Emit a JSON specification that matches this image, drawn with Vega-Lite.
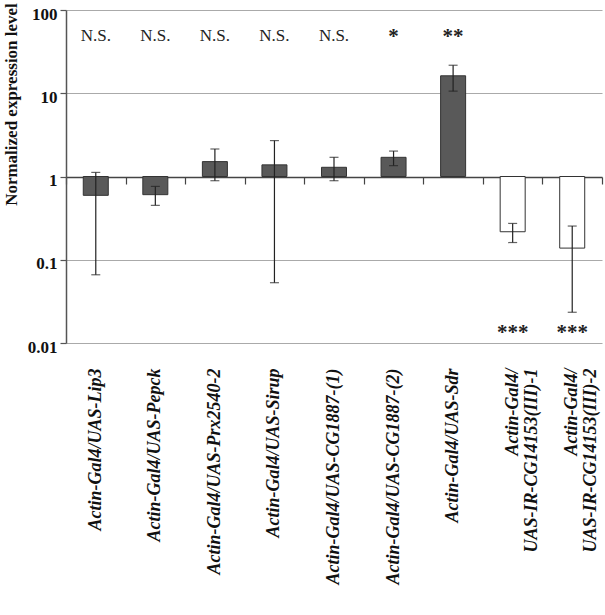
{
  "$schema": "https://vega.github.io/schema/vega-lite/v6.json",
  "width": 605,
  "height": 615,
  "autosize": {"type": "fit", "contains": "padding"},
  "padding": {"left": 1, "top": 2, "right": 2, "bottom": 31},
  "background": "white",
  "config": {"view": {"stroke": null}, "font": "Liberation Serif"},
  "data": {
    "values": [
      {"genotype": "Actin-Gal4/UAS-Lip3", "construct": "overexpression", "mean": 0.594, "lo": 0.066, "hi": 1.12, "sig": "N.S."},
      {"genotype": "Actin-Gal4/UAS-Pepck", "construct": "overexpression", "mean": 0.605, "lo": 0.45, "hi": 0.76, "sig": "N.S."},
      {"genotype": "Actin-Gal4/UAS-Prx2540-2", "construct": "overexpression", "mean": 1.51, "lo": 0.89, "hi": 2.14, "sig": "N.S."},
      {"genotype": "Actin-Gal4/UAS-Sirup", "construct": "overexpression", "mean": 1.38, "lo": 0.053, "hi": 2.7, "sig": "N.S."},
      {"genotype": "Actin-Gal4/UAS-CG1887-(1)", "construct": "overexpression", "mean": 1.29, "lo": 0.89, "hi": 1.7, "sig": "N.S."},
      {"genotype": "Actin-Gal4/UAS-CG1887-(2)", "construct": "overexpression", "mean": 1.7, "lo": 1.35, "hi": 2.02, "sig": "*"},
      {"genotype": "Actin-Gal4/UAS-Sdr", "construct": "overexpression", "mean": 16.2, "lo": 10.6, "hi": 21.7, "sig": "**"},
      {"genotype": "Actin-Gal4/UAS-IR-CG14153(III)-1", "construct": "RNAi", "mean": 0.217, "lo": 0.161, "hi": 0.273, "sig": "***"},
      {"genotype": "Actin-Gal4/UAS-IR-CG14153(III)-2", "construct": "RNAi", "mean": 0.138, "lo": 0.0234, "hi": 0.254, "sig": "***"}
    ]
  },
  "resolve": {"axis": {"x": "independent", "y": "independent"}},
  "layer": [
    {
      "mark": {"type": "bar", "width": {"band": 0.42}, "stroke": "#333", "strokeWidth": 1},
      "encoding": {
        "x": {"field": "genotype", "type": "nominal", "sort": null,
          "scale": {"paddingInner": 0, "paddingOuter": 0},
          "axis": {"orient": "top", "offset": -174, "labels": false, "title": null,
            "domain": false,
            "ticks": true, "tickBand": "extent", "tickSize": 7, "tickColor": "#444", "tickWidth": 1.2, "grid": false}},
        "y": {"field": "mean", "type": "quantitative",
          "scale": {"type": "log", "domain": [0.01, 100], "nice": false},
          "axis": {"values": [0.01, 0.1, 1, 10, 100], "format": "~g", "grid": true,
            "gridColor": {"condition": {"test": "datum.value == 1", "value": "#444"}, "value": "#aaaaaa"},
            "gridWidth": {"condition": {"test": "datum.value == 1", "value": 1.3}, "value": 1},
            "domainColor": "#555", "domainWidth": 1.5, "tickColor": "#555", "tickSize": 6, "tickWidth": 1.2,
            "labelFont": "Liberation Serif", "labelFontSize": 17, "labelFontWeight": "bold", "labelColor": "#111", "labelPadding": 3, "labelOffset": 4,
            "title": "Normalized expression level", "titleFont": "Liberation Serif", "titleFontSize": 17, "titleFontWeight": "bold",
            "titleColor": "#111", "titleAngle": 270, "titleX": -50, "titleY": 94, "titleBaseline": "alphabetic", "titleAlign": "center"}},
        "y2": {"datum": 1},
        "fill": {"field": "construct", "type": "nominal", "scale": {"domain": ["overexpression", "RNAi"], "range": ["#595959", "#ffffff"]}, "legend": null}
      }
    },
    {
      "mark": {"type": "rule", "color": "#222", "strokeWidth": 1.2},
      "encoding": {
        "x": {"field": "genotype", "type": "nominal", "sort": null,
          "axis": {"orient": "bottom", "title": null, "domain": false, "ticks": false, "grid": false,
            "labelAngle": 270, "labelAlign": "right", "labelBaseline": "middle",
            "labelFont": "Liberation Serif", "labelFontSize": 18, "labelFontStyle": "italic", "labelFontWeight": "bold",
            "labelColor": "#111", "labelPadding": 25, "labelLimit": 400, "labelLineHeight": 19,
            "labelExpr": "indexof(datum.label, 'UAS-IR') >= 0 ? ['Actin-Gal4/', replace(datum.label, 'Actin-Gal4/', '')] : datum.label"}},
        "y": {"field": "lo", "type": "quantitative", "axis": null},
        "y2": {"field": "hi"}
      }
    },
    {
      "mark": {"type": "tick", "color": "#222", "size": 9, "thickness": 1.2},
      "encoding": {
        "x": {"field": "genotype", "type": "nominal", "sort": null, "axis": null},
        "y": {"field": "lo", "type": "quantitative", "axis": null}
      }
    },
    {
      "mark": {"type": "tick", "color": "#222", "size": 9, "thickness": 1.2},
      "encoding": {
        "x": {"field": "genotype", "type": "nominal", "sort": null, "axis": null},
        "y": {"field": "hi", "type": "quantitative", "axis": null}
      }
    },
    {
      "transform": [{"filter": "datum.sig == 'N.S.'"}],
      "mark": {"type": "text", "font": "Liberation Serif", "fontSize": 17, "baseline": "alphabetic", "color": "#222"},
      "encoding": {
        "x": {"field": "genotype", "type": "nominal", "sort": null, "axis": null},
        "y": {"datum": 42.8, "type": "quantitative", "axis": null},
        "text": {"field": "sig"}
      }
    },
    {
      "transform": [{"filter": "datum.sig != 'N.S.' && datum.construct == 'overexpression'"}],
      "mark": {"type": "text", "font": "Liberation Serif", "fontSize": 21, "fontWeight": "bold", "baseline": "alphabetic", "color": "#222"},
      "encoding": {
        "x": {"field": "genotype", "type": "nominal", "sort": null, "axis": null},
        "y": {"datum": 40, "type": "quantitative", "axis": null},
        "text": {"field": "sig"}
      }
    },
    {
      "transform": [{"filter": "datum.construct == 'RNAi'"}],
      "mark": {"type": "text", "font": "Liberation Serif", "fontSize": 21, "fontWeight": "bold", "baseline": "alphabetic", "color": "#222"},
      "encoding": {
        "x": {"field": "genotype", "type": "nominal", "sort": null, "axis": null},
        "y": {"datum": 0.0112, "type": "quantitative", "axis": null},
        "text": {"field": "sig"}
      }
    }
  ]
}
